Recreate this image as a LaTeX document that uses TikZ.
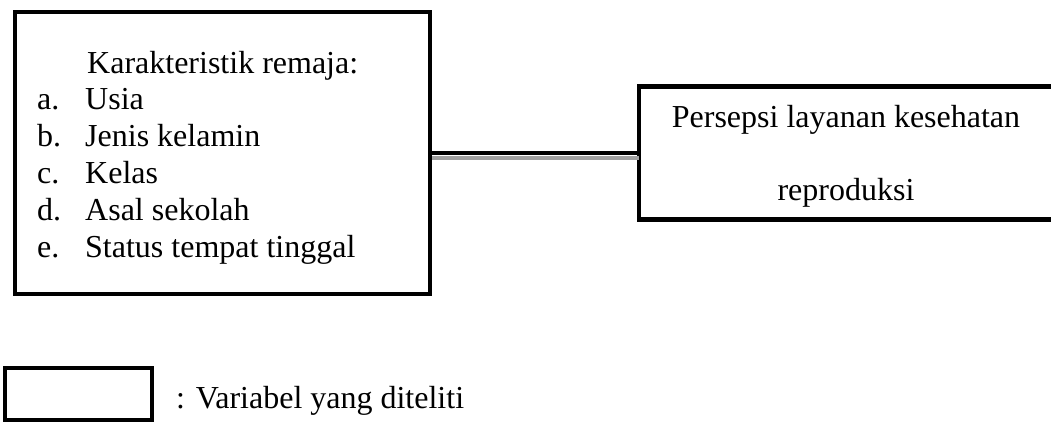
\documentclass[tikz,border=0pt]{standalone}
\usepackage{fontspec}
\setmainfont{Liberation Serif}
\tikzset{
  varbox/.style={draw, line width=4.5pt, inner sep=0pt, fill=white},
  openbox/.style={inner sep=0pt},
  edge/.style={line width=4.5pt},
  txt/.style={inner sep=0pt, font=\fontsize{32pt}{36.8pt}\selectfont},
  link/.style={line width=4.5pt},
  linkshade/.style={line width=4pt, draw={rgb,255:red,160;green,160;blue,160}}
}
\begin{document}
\begin{tikzpicture}[x=1pt,y=1pt]
  \useasboundingbox (0,0) rectangle (1051,-425);
  % variable boxes; the outcome box runs on past the right margin
  \node[varbox, minimum width=415pt, minimum height=282pt] (kar) at (222.5,-153) {};
  \node[openbox, minimum width=412pt, minimum height=133pt] (pers) at (845,-153) {};
  \draw[edge, line join=miter] (pers.north east) -- (pers.north west)
        -- (pers.south west) -- (pers.south east);
  % connector with its grey shade
  \draw[linkshade] ([yshift=-4.5pt]kar.east) -- ([yshift=-4.5pt]pers.west);
  \draw[link] (kar.east) -- (pers.west);
  % characteristics list
  \node[txt, anchor=base west] (kt) at (87,-73.3) {Karakteristik remaja:};
  \node[txt, anchor=base west] (la) at (37,-110) {a.};
  \node[txt, anchor=base west] (ia) at (85,-110) {Usia};
  \node[txt, anchor=base west] (lb) at (37,-146.9) {b.};
  \node[txt, anchor=base west] (ib) at (85,-146.9) {Jenis kelamin};
  \node[txt, anchor=base west] (lc) at (37,-183.8) {c.};
  \node[txt, anchor=base west] (ic) at (85,-183.8) {Kelas};
  \node[txt, anchor=base west] (ld) at (37,-220.7) {d.};
  \node[txt, anchor=base west] (id) at (85,-220.7) {Asal sekolah};
  \node[txt, anchor=base west] (le) at (37,-257.6) {e.};
  \node[txt, anchor=base west] (ie) at (85,-257.6) {Status tempat tinggal};
  % outcome text
  \node[txt, anchor=base] (p1) at (846,-128) {Persepsi layanan kesehatan};
  \node[txt, anchor=base] (p2) at (846,-200) {reproduksi};
  % legend
  \node[varbox, minimum width=147pt, minimum height=52pt] (leg) at (78.5,-394) {};
  \node[txt, anchor=base west] (legt) at (176,-408) {: Variabel yang diteliti};
\end{tikzpicture}
\end{document}
